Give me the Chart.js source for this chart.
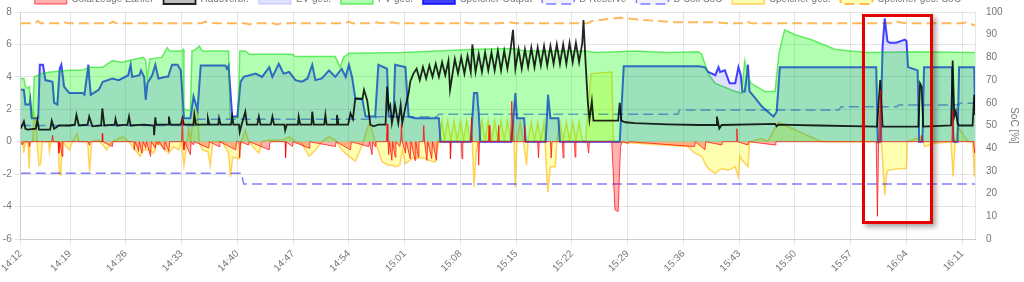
<!DOCTYPE html>
<html>
<head>
<meta charset="utf-8">
<script src="https://cdn.jsdelivr.net/npm/chart.js@4.4.0/dist/chart.umd.min.js"></script>
<style>
  html, body { margin: 0; padding: 0; background: #fff; overflow: hidden; }
  #wrap { position: relative; width: 1024px; height: 282px; overflow: hidden; }
  #chart { position: absolute; left: 0; top: -16px; }
  #mark { position: absolute; left: 862px; top: 14px; width: 71px; height: 210px; box-sizing: border-box;
          border: 3px solid #e60000; box-shadow: 3px 3px 5px rgba(0,0,0,0.35); }
</style>
</head>
<body>
<div id="wrap">
  <canvas id="chart" width="1024" height="298"></canvas>
  <div id="mark"></div>
</div>
<script>
// x values are minutes after 14:00
const xMin = 12.8;
const xMax = 132.6;
const tickMinutes = [12.8, 19, 26, 33, 40, 47, 54, 61, 68, 75, 82, 89, 96, 103, 110, 117, 124, 131];

const seriesLabels = ['Solarzeuge Zähler', 'Hausverbr.', 'EV ges.', 'PV ges.', 'Speicher Output',
                      'B-Reserve', 'B-Soll SoC', 'Speicher ges.', 'Speicher ges. SoC'];

// [minute, kW]
const solarZaehler = [[12.8,0],[13.0,-0.2],[13.2,0],[13.8,0],[13.9,-0.3],[14.0,0],[16.7,0],[16.8,0.4],[16.9,0],
  [17.5,0],[17.6,-0.7],[17.7,0],[17.9,-0.6],[18.0,-0.9],[18.1,0],[21.3,0],[21.4,-0.2],[21.5,0],[23.0,0],[23.05,0.5],
  [23.1,0],[24.3,-0.3],[24.4,0],[27.0,0],[27.05,-0.5],[27.2,0],[27.6,-0.6],[27.7,0],[28.0,-0.7],[28.2,0],[28.5,-0.4],
  [28.6,0],[29.1,-0.9],[29.2,0],[29.7,-0.4],[29.8,0],[30.1,-0.2],[30.2,0],[30.8,-0.5],[30.9,0],[31.4,-0.6],[31.5,0],
  [33.0,0],[33.1,1.45],[33.2,0],[33.3,-0.5],[33.4,0],[34.1,-0.8],[34.2,0],[34.5,-0.2],[34.6,0],[36.4,-0.4],[36.5,0],
  [37.7,-0.3],[37.8,0],[39.8,-0.5],[39.9,0],[40.2,0],[40.3,-1.0],[40.4,0],[41.4,-0.2],[41.5,0],[44.0,-0.5],[44.1,0],
  [46.0,0],[46.05,-1.0],[46.15,0],[46.9,-0.3],[47.0,0],[49.0,-0.4],[49.1,0],[52.3,-0.3],[52.4,0],[54.2,-0.5],[54.3,0],
  [56.5,-0.3],[56.6,0],[56.9,-0.8],[57.0,0],[57.3,-0.3],[57.4,0],[58.7,0],[58.8,1.1],[58.9,0],[59.0,-0.8],[59.1,0],
  [59.4,-1.15],[59.5,0],[59.8,-0.95],[59.9,0],[60.4,-0.3],[60.5,0],[60.6,1.1],[60.7,0],[61.1,-0.7],[61.2,0],
  [61.7,-1.05],[61.8,0],[62.3,-1.15],[62.4,0],[62.7,-0.95],[62.8,0],[63.3,0],[63.4,1.0],[63.5,0],[63.8,-1.15],[63.9,0],
  [64.4,-1.05],[64.5,0],[65.0,-1.15],[65.1,0],[66.7,0],[66.75,-1.05],[66.85,0],[68.1,0],[68.2,-1.05],[68.3,0],
  [69.3,0],[69.4,1.5],[69.5,0],[70.2,0],[70.3,-1.45],[70.4,0],[71.5,0],[71.6,1.0],[71.7,0],[72.7,0],[72.8,1.0],[72.9,0],
  [74.3,0],[74.45,2.5],[74.6,0],[76.0,0],[76.05,1.0],[76.15,0],[77.7,0],[77.8,-1.0],[77.9,0],[79.3,0],[79.4,-1.0],
  [79.5,0],[80.8,0],[80.9,-1.0],[81.0,0],[82.3,0],[82.4,-0.95],[82.5,0],[83.9,0],[84.1,-0.7],[84.2,0],[87.0,0],
  [87.4,-4.2],[87.8,-4.3],[88.1,-0.3],[88.3,0],[89.1,-0.1],[89.2,0],[97.4,-0.3],[97.5,0],[98.7,-0.5],[98.8,0],
  [100.8,-0.2],[100.9,0],[102.6,0],[102.7,0.8],[102.8,0],[104.1,-0.2],[104.2,0],[107.5,-0.2],[107.6,0],[120.2,0],
  [120.35,-4.6],[120.5,0],[120.75,3.2],[120.9,0],[125.8,0],[125.9,0.4],[126.0,0],[129.7,0],[129.8,1.95],[129.95,0],
  [132.4,0],[132.55,-0.7],[132.6,-0.3]];

const hausverbr = [[12.8,0.8],[13.2,1.25],[13.4,0.8],[13.65,0.75],[14.7,0.8],[14.9,1.35],[15.1,0.75],[16.5,0.75],
  [16.7,1.3],[17.0,0.8],[17.6,1.0],[18.9,1.0],[19.6,1.05],[19.8,1.65],[20.1,1.0],[21.2,1.05],[21.4,1.55],[21.8,0.95],
  [22.9,1.0],[23.05,2.05],[23.3,1.0],[24.6,1.05],[24.7,1.4],[24.9,1.0],[26.2,1.05],[26.4,1.55],[26.6,1.0],[28.3,1.05],
  [29.5,1.0],[29.55,0.4],[29.7,1.5],[29.8,1.05],[31.3,1.05],[31.4,1.55],[31.6,1.05],[32.9,1.05],[33.1,1.45],[33.3,1.05],
  [34.5,1.05],[34.6,1.65],[34.8,1.05],[36.2,1.05],[36.3,1.45],[36.5,1.05],[37.6,1.05],[37.7,1.45],[37.9,1.05],
  [39.2,1.05],[39.35,1.55],[39.5,1.05],[40.2,1.05],[40.3,0.6],[40.5,1.0],[41.0,1.85],[41.2,1.05],[42.5,1.05],
  [42.7,1.55],[42.9,1.05],[44.2,1.05],[44.4,1.55],[44.6,1.05],[45.9,1.05],[46.0,0.7],[46.2,1.05],[47.6,1.05],
  [47.7,1.55],[47.9,1.05],[49.3,1.05],[49.4,1.85],[49.6,1.05],[50.9,1.05],[51.05,1.65],[51.2,1.05],[52.4,1.05],
  [52.5,1.65],[52.7,1.05],[53.9,1.05],[54.2,1.75],[54.5,1.4],[54.8,2.65],[55.7,2.65],[55.9,3.2],[56.3,2.55],
  [56.7,1.05],[57.1,0.95],[57.7,1.05],[58.6,1.05],[58.8,3.4],[59.0,2.0],[59.2,2.25],[59.4,1.15],[59.8,2.25],
  [60.2,1.15],[60.5,2.25],[60.7,1.15],[61.1,2.15],[61.5,3.0],[61.7,3.7],[62.1,4.2],
  [62.5,4.5],[62.9,3.8],[63.3,4.6],[63.7,3.9],[64.1,4.7],[64.5,4.0],[64.9,4.8],[65.3,4.0],[65.7,4.9],[66.1,4.1],
  [66.5,5.0],[66.7,3.2],[67.3,5.1],[67.7,4.2],[68.1,5.2],[68.5,4.2],[68.9,5.3],[69.3,4.3],[69.5,6.0],[69.9,4.3],
  [70.3,5.4],[70.7,4.3],[71.1,5.5],[71.5,4.4],[71.9,5.5],[72.3,4.4],[72.7,5.6],[73.1,4.4],[73.5,5.6],[73.9,4.5],
  [74.3,5.7],[74.6,6.9],[74.9,4.5],[75.3,5.7],[75.7,4.5],[76.1,5.7],[76.5,4.6],[76.9,5.8],[77.3,4.6],[77.7,5.8],
  [78.1,4.7],[78.5,5.9],[78.9,4.7],[79.3,5.9],[79.7,4.8],[80.1,6.0],[80.5,4.8],[80.9,6.0],[81.3,4.8],[81.7,6.1],
  [82.1,4.9],[82.5,6.1],[82.9,4.9],[83.3,6.1],[83.45,7.5],[83.7,5.0],[84.0,2.4],[84.2,1.35],[84.5,2.5],[84.7,1.3],
  [87.8,1.3],[88.0,2.4],[88.2,1.3],[88.7,1.2],[89.9,1.15],[94.0,1.07],[98.0,1.03],[100.1,1.03],[100.2,1.55],
  [100.5,0.82],[100.8,1.03],[107.5,1.1],[107.7,0.95],[107.9,1.05],[113.0,1.0],[120.3,0.93],[120.7,3.8],[121.0,0.93],
  [125.5,0.93],[125.7,3.6],[125.9,3.4],[126.1,0.93],[129.6,1.0],[129.8,5.0],[130.0,1.55],[130.2,1.9],[130.4,1.15],
  [130.6,1.0],[132.3,1.0],[132.5,2.9],[132.6,1.65]];

const evGes = [[12.8,3.2],[13.2,3.2],[13.4,2.3],[13.9,2.3],[14.0,2.6],[14.2,1.45],[15.0,1.45],[15.2,4.75],[15.6,4.75],
  [15.9,3.8],[16.8,3.7],[17.0,2.4],[17.4,2.3],[17.7,4.5],[17.9,4.75],[18.25,3.4],[18.9,3.0],[20.6,3.0],[20.8,2.9],
  [21.3,4.75],[21.4,4.0],[21.6,2.9],[22.6,3.2],[23.1,3.7],[24.3,3.9],[25.1,3.8],[26.3,4.1],[26.6,4.75],[26.8,4.0],
  [27.7,4.1],[27.9,4.4],[28.3,4.0],[28.5,2.6],[28.7,3.6],[29.3,4.1],[29.7,4.75],[30.1,3.9],[31.0,4.0],[31.3,4.0],
  [31.8,4.75],[32.5,4.75],[32.9,4.4],[33.3,1.45],[34.1,1.45],[34.5,2.8],[35.0,1.95],[35.4,4.7],[38.5,4.7],[38.7,4.5],
  [38.9,4.7],[39.35,1.55],[40.0,1.55],[40.4,3.7],[40.8,4.0],[42.3,4.2],[43.1,4.0],[44.0,4.6],[44.4,4.0],[45.2,4.8],
  [45.8,4.2],[46.5,4.3],[47.3,3.8],[48.1,3.7],[48.8,3.9],[49.4,4.75],[49.8,3.8],[50.6,3.9],[51.5,4.4],[52.3,4.0],
  [53.1,4.5],[53.6,4.0],[54.0,4.75],[54.4,4.0],[54.8,2.7],[55.7,2.6],[56.1,1.55],[57.3,1.55],[57.7,4.75],[58.8,4.5],
  [59.0,1.55],[59.6,1.55],[59.8,4.75],[61.1,4.6],[61.5,1.55],[62.3,1.45],[65.3,1.45],[65.5,0],[69.3,0],[69.7,3.0],
  [70.1,3.0],[70.3,1.75],[70.5,0],[74.4,0],[74.9,3.0],[75.1,1.45],[76.0,1.45],[76.2,0],[78.7,0],[79.0,2.9],
  [79.3,1.45],[80.3,1.45],[80.5,0],[88.0,0],[88.5,4.65],[97.9,4.65],[98.7,4.6],[99.1,4.3],[100.0,4.1],[100.4,4.6],
  [100.6,4.3],[101.2,4.4],[101.8,3.6],[102.5,3.6],[102.9,4.6],[103.2,4.1],[103.4,3.1],[103.7,3.1],[104.1,4.75],
  [104.3,3.1],[105.0,2.7],[105.8,2.2],[106.6,1.85],[107.3,1.55],[107.7,1.85],[108.1,4.6],[120.2,4.6],[120.4,0],
  [120.7,0],[121.0,5.9],[121.27,7.6],[121.6,6.2],[121.9,6.1],[122.7,6.1],[123.8,6.3],[124.0,6.2],[124.2,4.6],
  [125.4,4.4],[125.6,0],[126.0,0],[126.2,4.6],[129.7,4.6],[129.9,0],[130.4,0],[130.6,4.6],[132.5,4.6],[132.6,1.95]];

const pvGes = [[12.8,3.9],[13.2,3.9],[13.4,3.4],[13.7,3.3],[13.9,3.4],[14.1,1.5],[14.3,1.5],[14.5,4.0],[15.0,4.1],
  [15.3,4.2],[16.5,4.3],[18.9,4.4],[20.5,4.4],[21.4,4.6],[23.1,4.6],[24.3,5.0],[25.5,4.9],[27.2,5.1],[28.2,5.2],
  [28.5,5.0],[28.7,3.9],[29.0,5.1],[30.5,5.2],[31.2,5.8],[31.5,5.6],[33.0,5.6],[33.2,5.7],[33.3,2.0],[34.1,1.9],
  [34.3,5.6],[34.8,5.7],[35.2,5.9],[35.6,5.6],[38.9,5.6],[39.1,1.5],[40.1,1.5],[40.3,5.6],[41.0,5.6],[41.5,5.4],
  [46.9,5.4],[47.3,5.25],[52.3,5.25],[52.9,4.6],[53.3,5.2],[54.0,5.45],[60.7,5.5],[65.0,5.6],[70.0,5.7],[74.7,5.75],
  [76.0,5.6],[83.6,5.6],[85.0,5.5],[90.0,5.6],[94.0,5.5],[97.9,5.55],[98.3,5.4],[99.1,4.2],[100.0,3.6],[101.0,3.4],
  [102.5,3.1],[103.3,3.0],[103.7,5.0],[104.1,4.0],[104.5,3.6],[106.2,3.1],[107.5,3.1],[108.0,5.5],[108.7,6.9],
  [110.0,6.6],[112.0,6.3],[115.0,5.7],[117.0,5.6],[119.2,5.5],[125.0,5.55],[132.6,5.5]];

// [minute, %]
const bReserve = [[12.8,29],[40.5,29],[40.8,24.2],[132.6,24.2]];
const bSoll = [[12.8,50],[34.8,50],[35.0,52.8],[57.3,52.8],[57.5,53.8],[65.0,53.8],[65.3,55],[95.3,55],[95.5,56.8],
  [115.5,56.8],[115.8,58.3],[122.8,58.3],[123.0,59],[130.5,59],[130.8,59.8],[132.6,59.8]];

// [minute, kW]
const speicherGes = [[12.8,0],[13.1,0],[13.2,-0.7],[13.4,0],[13.7,0],[13.86,-1.65],[14.0,0],[14.3,0],[14.5,1.75],
  [14.7,1.4],[14.85,0],[15.1,-1.45],[15.3,-1.35],[15.5,0],[16.3,0],[16.4,-0.6],[16.6,0],[17.5,0],[17.65,-1.95],
  [17.85,-2.05],[18.0,0],[18.9,-0.5],[19.3,0],[19.9,0.5],[20.1,0],[21.2,0],[21.45,-1.85],[21.7,0],[22.6,0.1],
  [23.6,-0.5],[24.0,-0.2],[24.3,0],[25.6,0.3],[26.4,0],[27.8,-0.9],[28.2,-0.5],[28.9,-0.5],[29.5,-0.7],[30.0,0],
  [31.4,-0.7],[32.0,-0.3],[32.6,-0.5],[33.0,0],[33.29,-1.45],[33.6,-0.3],[33.9,0.9],[34.1,0],[34.6,1.95],[35.0,1.95],
  [35.2,0],[35.6,-0.5],[36.3,-0.6],[36.6,-1.45],[36.9,0],[38.1,0],[38.9,-0.7],[39.14,-2.15],[39.4,-0.95],[40.2,-1.05],
  [40.5,0],[41.0,0.7],[41.4,0],[42.3,-0.5],[42.7,-0.7],[43.1,0],[44.0,0.1],[45.6,0.1],[46.5,0.3],[47.3,0],[48.1,-0.1],
  [49.0,-0.9],[49.8,-0.5],[50.6,0],[51.5,0.3],[52.3,0.1],[53.1,-0.5],[54.0,-0.9],[54.8,-1.2],[55.6,-0.3],[56.5,1.1],
  [56.9,0.7],[57.3,0],[58.2,-1.25],[59.0,-1.45],[59.6,-1.45],[59.8,-1.55],[60.4,-1.45],[60.7,-0.5],[61.1,-1.35],
  [62.0,-1.0],[62.8,-1.0],[63.4,-1.0],[64.0,-1.15],[64.8,-1.25],[65.3,0],[65.7,1.3],[66.0,0.1],[66.4,1.3],[66.8,0.1],
  [67.2,1.3],[67.6,0.1],[68.0,1.3],[68.4,0.1],[68.8,1.3],[69.2,0.1],[69.5,0],[69.7,-2.8],[70.0,-0.5],[70.3,0],
  [70.7,1.3],[71.1,0.1],[71.5,1.3],[71.9,0.1],[72.3,1.3],[72.7,0.1],[73.1,1.3],[73.5,0.1],[73.9,1.3],[74.3,0.1],
  [74.7,1.3],[74.87,-2.8],[75.1,0.1],[75.5,1.2],[75.9,0.1],[76.3,-1.45],[76.5,0.1],[76.9,1.2],[77.3,0.1],[77.7,1.2],
  [78.1,0.1],[78.5,1.2],[78.97,-3.1],[79.3,-1.55],[79.9,-1.55],[80.1,0],[80.5,1.2],[80.9,0.1],[81.3,1.2],[81.7,0.1],
  [82.1,1.2],[82.5,0.1],[82.9,1.2],[83.3,0.1],[83.7,0],[84.4,4.2],[87.0,4.3],[87.2,0],[96.6,-0.3],[97.4,-0.7],
  [98.3,-0.9],[98.7,-1.34],[99.1,-1.65],[99.95,-1.95],[100.8,-1.65],[101.6,-1.75],[102.5,-1.55],[102.87,-2.15],
  [103.1,-0.9],[103.3,-1.1],[104.1,-1.55],[104.3,0],[105.8,0.2],[106.6,0],[107.9,1.2],[113.3,0],[120.2,0],
  [120.4,-0.1],[120.85,0],[121.27,-3.3],[121.5,-1.95],[121.7,-1.75],[123.4,-1.65],[124.0,-1.65],[124.1,0],
  [125.9,0.3],[126.3,-0.3],[127.5,-0.1],[129.6,0],[129.85,-2.15],[130.1,0],[130.5,0.9],[131.7,0],[132.3,0],
  [132.5,-2.15],[132.6,-0.5]];

// [minute, %]
const speicherSoc = [[12.8,95],[14.5,95],[15.0,96],[15.3,95],[18.0,95],[18.3,95.5],[18.8,95],[24.0,95],[24.4,95.8],
  [24.8,95],[30.5,95],[31.0,94.5],[31.4,95],[35.5,95],[35.9,95.7],[36.6,95.5],[37.2,95],[41.0,95],[41.5,94.5],
  [42.0,95],[44.5,95],[45.0,94.5],[45.5,95],[47.0,95],[47.6,95.5],[48.0,95],[53.5,95],[54.0,95.8],[54.4,95],
  [57.0,95],[57.5,95.5],[58.0,95],[59.5,95.5],[60.0,95],[68.0,95],[68.5,95.5],[69.0,95],[73.0,95],[74.0,95.5],
  [75.0,95],[84.0,95],[84.5,96],[88.0,97.5],[91.0,96.5],[95.0,95.5],[100.0,95.5],[101.5,95],[103.5,95],[104.0,95.8],
  [104.5,95],[122.0,95],[122.5,96],[123.5,95.3],[124.2,95],[131.0,95],[131.5,95.5],[132.6,94]];

const fmtTime = v => {
  const m = Math.floor(v + 1e-6);
  return (14 + Math.floor(m / 60)) + ':' + String(m % 60).padStart(2, '0');
};

// legend sits a bit closer to the plot than chart.js puts it
const legendFit = {
  id: 'legendFit',
  beforeInit(chart) {
    const fit = chart.legend.fit;
    chart.legend.fit = function () { fit.call(this); this.height -= 2; };
  }
};

Chart.defaults.font.family = "'Liberation Sans', Arial, sans-serif";
Chart.defaults.font.size = 10;
Chart.defaults.color = '#777';

const ctx = document.getElementById('chart').getContext('2d');
new Chart(ctx, {
  type: 'line',
  data: {
    datasets: [
      { label: seriesLabels[0], data: solarZaehler, borderColor: 'rgba(255,0,0,0.7)', backgroundColor: 'rgba(255,0,0,0.3)',
        borderWidth: 1, fill: 'origin', yAxisID: 'y' },
      { label: seriesLabels[1], data: hausverbr, borderColor: 'rgba(0,0,0,0.85)', backgroundColor: 'rgba(0,0,0,0.25)',
        borderWidth: 1.8, fill: false, yAxisID: 'y' },
      { label: seriesLabels[2], data: evGes, borderColor: 'rgba(0,0,255,0.1)', backgroundColor: 'rgba(0,0,255,0.12)',
        borderWidth: 2, fill: 'origin', yAxisID: 'y' },
      { label: seriesLabels[3], data: pvGes, borderColor: 'rgba(0,220,0,0.55)', backgroundColor: 'rgba(0,255,0,0.3)',
        borderWidth: 1.5, fill: 'origin', yAxisID: 'y' },
      { label: seriesLabels[4], data: evGes, borderColor: 'rgba(0,0,255,0.7)', backgroundColor: 'rgba(0,0,255,0.75)',
        borderWidth: 2, fill: false, yAxisID: 'y' },
      { label: seriesLabels[5], data: bReserve, borderColor: 'rgba(0,0,255,0.5)', backgroundColor: 'rgba(0,0,255,0.05)',
        borderWidth: 1.5, borderDash: [10, 5], fill: false, yAxisID: 'soc' },
      { label: seriesLabels[6], data: bSoll, borderColor: 'rgba(0,0,255,0.5)', backgroundColor: 'rgba(0,0,255,0.05)',
        borderWidth: 1.5, borderDash: [10, 5], fill: false, yAxisID: 'soc' },
      { label: seriesLabels[7], data: speicherGes, borderColor: 'rgba(255,180,0,0.6)', backgroundColor: 'rgba(255,255,0,0.3)',
        borderWidth: 1.5, fill: 'origin', yAxisID: 'y' },
      { label: seriesLabels[8], data: speicherSoc, borderColor: 'rgba(255,160,40,0.75)', backgroundColor: 'rgba(255,255,0,0.3)',
        borderWidth: 2, borderDash: [10, 5], fill: false, yAxisID: 'soc' }
    ]
  },
  options: {
    responsive: false,
    animation: false,
    elements: { point: { radius: 0 }, line: { tension: 0 } },
    layout: { padding: 0 },
    plugins: {
      legend: { fullSize: false, labels: { boxWidth: 32, padding: 10 } },
      tooltip: { enabled: false }
    },
    scales: {
      x: {
        type: 'linear',
        min: xMin,
        max: xMax,
        afterBuildTicks: s => { s.ticks = tickMinutes.map(v => ({ value: v })); },
        afterFit: s => { s.height = 43; },
        ticks: { autoSkip: false, minRotation: 45, maxRotation: 45, callback: v => fmtTime(v) },
        grid: { color: 'rgba(0,0,0,0.1)', tickLength: 6 }
      },
      y: {
        position: 'left',
        min: -6,
        max: 8,
        afterFit: s => { s.width = 18; },
        ticks: { stepSize: 2, padding: 3 },
        grid: { color: 'rgba(0,0,0,0.1)', tickLength: 6 }
      },
      soc: {
        position: 'right',
        min: 0,
        max: 100,
        afterFit: s => { s.width = 49; },
        ticks: { stepSize: 10, padding: 11 },
        grid: { drawOnChartArea: false, drawTicks: false },
        title: { display: true, text: 'SoC [%]', font: { size: 10 } }
      }
    }
  },
  plugins: [legendFit]
});
</script>
</body>
</html>
